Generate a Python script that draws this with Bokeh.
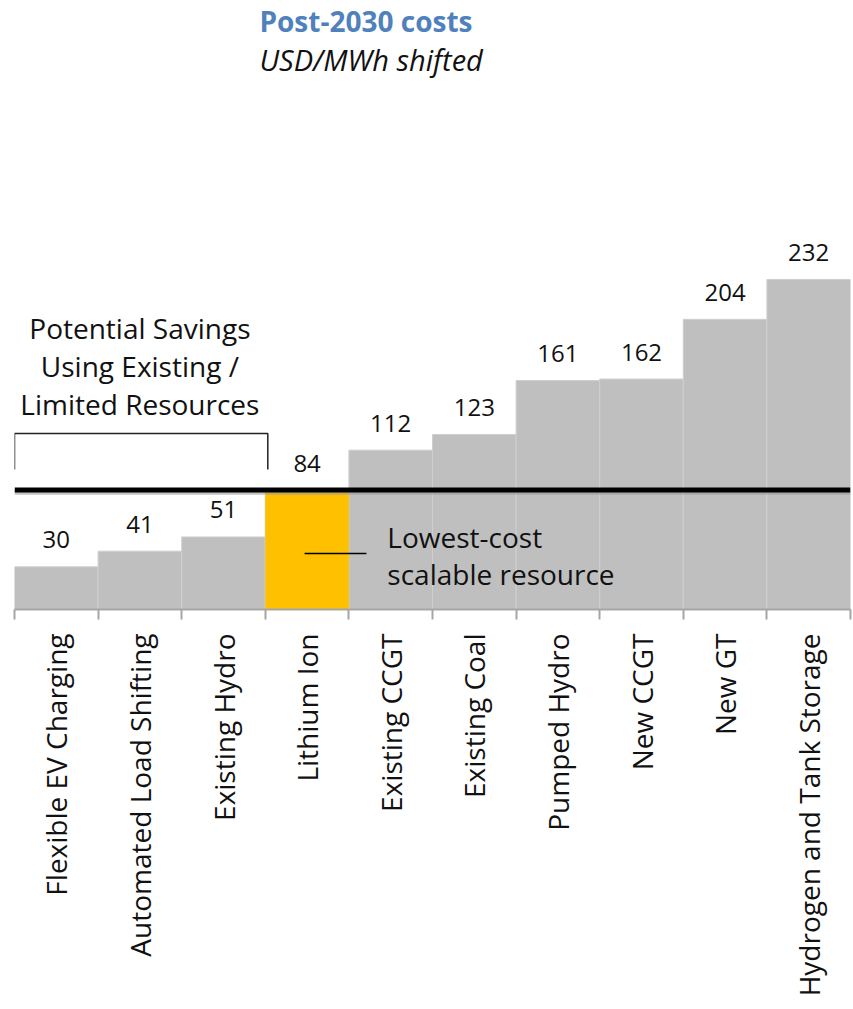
import math
from bokeh.plotting import figure
from bokeh.models import FixedTicker, ColumnDataSource, Range1d
from bokeh.core.properties import value
from bokeh.embed import file_html
from bokeh.resources import INLINE

categories = ["Flexible EV Charging", "Automated Load Shifting", "Existing Hydro",
              "Lithium Ion", "Existing CCGT", "Existing Coal", "Pumped Hydro",
              "New CCGT", "New GT", "Hydrogen and Tank Storage"]
costs = [30, 41, 51, 84, 112, 123, 161, 162, 204, 232]
highlight = "Lithium Ion"
threshold = 84

GRAY = "#BFBFBF"
GOLD = "#FFC000"
FONT = "Open Sans"

xs = [i + 0.5 for i in range(len(categories))]
colors = [GOLD if c == highlight else GRAY for c in categories]
src = ColumnDataSource(dict(x=xs, top=costs, color=colors,
                            label=[str(v) for v in costs]))

p = figure(frame_width=836, frame_height=602, output_backend="svg",
           toolbar_location=None, x_range=Range1d(0, len(categories)),
           y_range=Range1d(0, 423.2), min_border_left=14, min_border_right=2,
           min_border_top=7, min_border_bottom=0)
p.outline_line_color = None
p.xgrid.visible = False
p.ygrid.visible = False
p.yaxis.visible = False
p.background_fill_color = "white"
p.border_fill_color = "white"

p.vbar(x="x", top="top", bottom=0, width=1.0, source=src, fill_color="color",
       line_color="#CFCFCF", line_width=1)
p.vbar(x=[xs[categories.index(highlight)]], top=[threshold], bottom=0, width=1.0,
       fill_color=GOLD, line_color=None)

# threshold line with a soft shadow
p.line(x=[0, len(categories)], y=[threshold - 2.2, threshold - 2.2],
       line_color="#9a9a9a", line_width=3, line_alpha=0.6)
p.line(x=[0, len(categories)], y=[threshold, threshold], line_color="black",
       line_width=5)

# value labels
p.text(x="x", y="top", text="label", source=src, y_offset=-27,
       text_align="center", text_baseline="middle", text_font=value(FONT),
       text_font_size="24px", text_color="#111111")

# bracket
p.line(x=[0.0, 0.0, 3.03, 3.03], y=[98.4, 123.7, 123.7, 98.4],
       line_color="#222222", line_width=1.5)
p.text(x=[1.5, 1.5, 1.5], y=[197.6, 171.5, 144.8],
       text=["Potential Savings", "Using Existing /", "Limited Resources"],
       text_align="center", text_baseline="middle", text_font=value(FONT),
       text_font_size="28px", text_color="#111111")

# lowest-cost annotation
p.line(x=[3.47, 4.21], y=[39.4, 39.4], line_color="black", line_width=1.5)
p.text(x=[4.46, 4.46], y=[51.3, 25.3], text=["Lowest-cost", "scalable resource"],
       text_align="left", text_baseline="middle", text_font=value(FONT),
       text_font_size="28px", text_color="#111111")

# title
p.text(x=[2.93], y=[414.0], text=["Post-2030 costs"], text_align="left",
       text_baseline="middle", text_font=value(FONT), text_font_size="28px",
       text_font_style="bold", text_color="#4F81BD")
p.text(x=[2.93], y=[386.7], text=["USD/MWh shifted"], text_align="left",
       text_baseline="middle", text_font=value(FONT), text_font_size="29px",
       text_font_style="italic", text_color="#111111")

ax = p.xaxis[0]
ax.ticker = FixedTicker(ticks=xs, minor_ticks=list(range(len(categories) + 1)))
ax.major_label_overrides = {x: c for x, c in zip(xs, categories)}
ax.major_label_orientation = math.pi / 2
ax.major_tick_in = 0
ax.major_tick_out = 0
ax.minor_tick_in = 0
ax.minor_tick_out = 10
ax.minor_tick_line_color = "#A6A6A6"
ax.minor_tick_line_width = 2
ax.axis_line_color = "#A6A6A6"
ax.axis_line_width = 2
ax.major_label_standoff = 14
ax.major_label_text_font = FONT
ax.major_label_text_font_size = "28px"
ax.major_label_text_color = "#111111"

open("out.html", "w").write(file_html(p, INLINE))
